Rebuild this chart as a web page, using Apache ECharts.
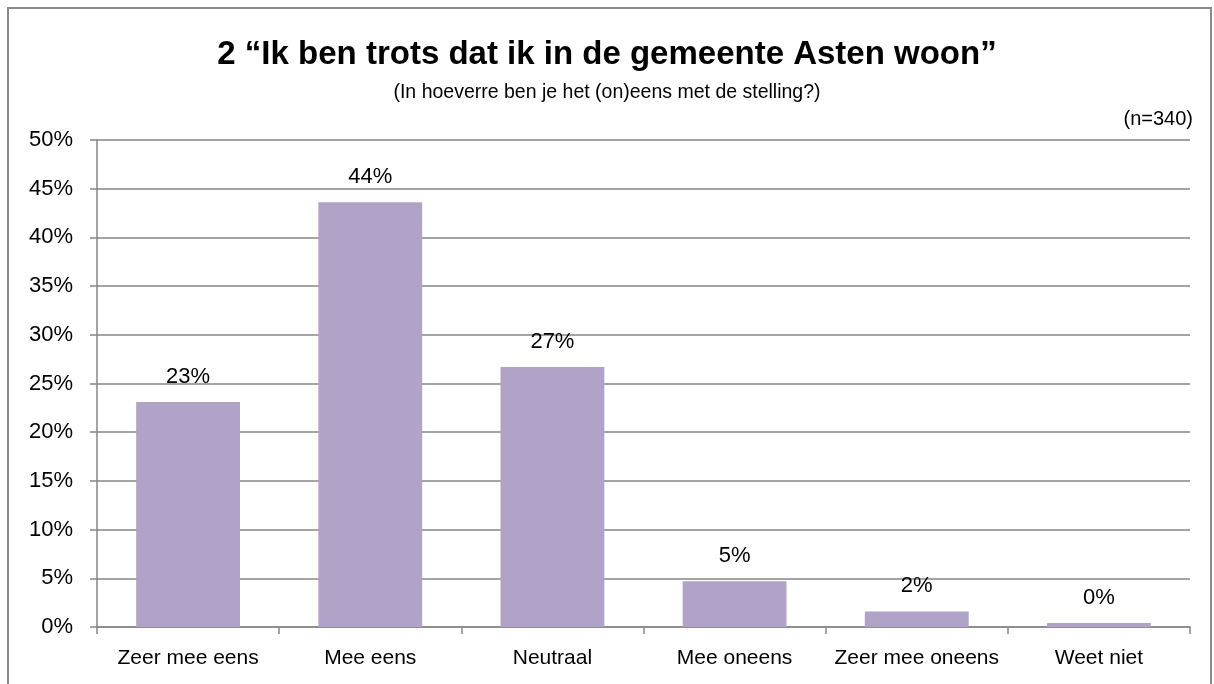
<!DOCTYPE html>
<html>
<head>
<meta charset="utf-8">
<script src="https://cdn.jsdelivr.net/npm/echarts@6/dist/echarts.min.js"></script>
<style>
html,body{margin:0;padding:0;background:#fff;}
#chart{width:1214px;height:684px;}
</style>
</head>
<body>
<div id="chart"></div>
<script>
const categories = ["Zeer mee eens", "Mee eens", "Neutraal", "Mee oneens", "Zeer mee oneens", "Weet niet"];
const values = [23.1, 43.6, 26.7, 4.7, 1.6, 0.4];
const titleText = "2 \u201CIk ben trots dat ik in de gemeente Asten woon\u201D";
const subtitleText = "(In hoeverre ben je het (on)eens met de stelling?)";
const nText = "(n=340)";

const FONT = "'Liberation Sans', Arial, sans-serif";
const chart = echarts.init(document.getElementById('chart'), null, {renderer: 'canvas'});
chart.setOption({
  backgroundColor: '#ffffff',
  animation: false,
  title: [
    {text: titleText, left: 'center', top: 33,
     textStyle: {fontFamily: FONT, fontSize: 33, fontWeight: 'bold', color: '#000'}},
    {text: subtitleText, left: 'center', top: 78,
     textStyle: {fontFamily: FONT, fontSize: 19.5, fontWeight: 'normal', color: '#000'}},
    {text: nText, right: 16, top: 104,
     textStyle: {fontFamily: FONT, fontSize: 20, fontWeight: 'normal', color: '#000'}}
  ],
  graphic: [
    {type: 'rect', shape: {x: 8, y: 8, width: 1203, height: 700},
     style: {fill: 'none', stroke: '#8a8a8a', lineWidth: 2}, silent: true, z: 100}
  ],
  grid: {left: 97, right: 24, top: 140, bottom: 57, containLabel: false},
  xAxis: {
    type: 'category',
    data: categories,
    axisLine: {show: true, lineStyle: {color: '#868686', width: 1.5}},
    axisTick: {show: true, alignWithLabel: false, length: 7, lineStyle: {color: '#868686', width: 1.5}},
    axisLabel: {fontFamily: FONT, fontSize: 21, color: '#000', margin: 21, interval: 0}
  },
  yAxis: {
    type: 'value',
    min: 0, max: 50, interval: 5,
    axisLine: {show: true, lineStyle: {color: '#868686', width: 1.5}},
    axisTick: {show: true, length: 7, lineStyle: {color: '#868686', width: 1.5}},
    axisLabel: {fontFamily: FONT, fontSize: 22, color: '#000', margin: 24, formatter: '{value}%'},
    splitLine: {show: true, lineStyle: {color: '#868686', width: 1.5}}
  },
  series: [{
    type: 'bar',
    data: values,
    barCategoryGap: '43%',
    itemStyle: {color: '#B1A2C8'},
    label: {
      show: true, position: 'top', distance: 14,
      fontFamily: FONT, fontSize: 22, color: '#000',
      formatter: p => Math.round(p.value) + '%'
    }
  }]
});
</script>
</body>
</html>
